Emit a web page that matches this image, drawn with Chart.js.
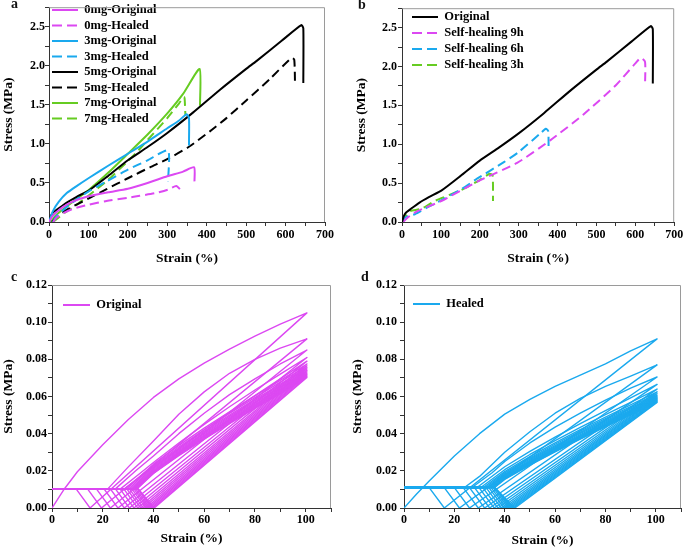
<!DOCTYPE html>
<html><head><meta charset="utf-8">
<script src="https://cdn.jsdelivr.net/npm/chart.js@4.4.0/dist/chart.umd.min.js"></script>
<style>
html,body{margin:0;padding:0;background:#fff;}
#wrap{position:relative;width:685px;height:549px;overflow:hidden;background:#fff;}
canvas{position:absolute;}
.lab{position:absolute;font:bold 14px/14px 'Times New Roman','Liberation Serif',serif;color:#111;}
</style></head><body>
<div id="wrap">
<canvas id="ca" width="345" height="270" style="left:0;top:0;width:345px;height:270px"></canvas>
<canvas id="cb" width="340" height="270" style="left:345px;top:0;width:340px;height:270px"></canvas>
<canvas id="cc" width="345" height="279" style="left:0;top:270px;width:345px;height:279px"></canvas>
<canvas id="cd" width="340" height="279" style="left:345px;top:270px;width:340px;height:279px"></canvas>
<div class="lab" style="left:11px;top:-3px">a</div>
<div class="lab" style="left:358px;top:-2px">b</div>
<div class="lab" style="left:11px;top:270px">c</div>
<div class="lab" style="left:361px;top:270px">d</div>
</div>
<script>
// ---------- Panel a data (strain %, stress MPa) ----------
const mg0Original = [[0,0],[8,0.07],[20,0.13],[35,0.19],[60,0.26],[100,0.33],[150,0.38],[200,0.425],[250,0.5],[300,0.585],[340,0.645],[368,0.70],[369,0.52]];
const mg0Healed = [[10,0],[20,0.06],[35,0.11],[61,0.17],[100,0.22],[146,0.27],[200,0.31],[230,0.335],[270,0.37],[302,0.415],[323,0.46],[336,0.40]];
const mg3Original = [[0,0],[10,0.14],[25,0.26],[45,0.37],[70,0.46],[103,0.57],[150,0.72],[205,0.89],[250,1.03],[300,1.2],[330,1.3],[349,1.38],[355,1.33],[355,0.98]];
const mg3Healed = [[10,0],[20,0.08],[40,0.17],[70,0.29],[100,0.39],[146,0.52],[200,0.67],[250,0.79],[302,0.915],[302,0.52]];
const mg5Original = [[0,0],[5,0.08],[10,0.12],[23,0.17],[45,0.25],[69,0.32],[103,0.41],[150,0.59],[200,0.79],[250,0.96],[300,1.14],[365,1.40],[433,1.69],[500,1.96],[526,2.06],[590,2.32],[640,2.52],[645,2.48],[645,1.78]];
const mg5Healed = [[8,0],[20,0.07],[50,0.17],[100,0.3],[146,0.42],[200,0.56],[256,0.7],[302,0.81],[354,0.96],[408,1.16],[450,1.33],[501,1.56],[560,1.83],[615,2.1],[622,2.08],[624,1.76]];
const mg7Original = [[5,0],[15,0.07],[30,0.14],[61,0.26],[103,0.42],[150,0.63],[200,0.874],[250,1.12],[300,1.39],[340,1.64],[382,1.96],[383,1.49]];
const mg7Healed = [[10,0],[20,0.04],[40,0.12],[70,0.22],[103,0.35],[150,0.54],[200,0.78],[222,0.89],[250,1.05],[300,1.33],[330,1.52],[342,1.6],[344,1.58],[346,1.36]];

// ---------- Panel b data ----------
const bOriginal = mg5Original;
const bHealing9h = [[3,0],[15,0.06],[40,0.14],[101,0.27],[194,0.52],[296,0.76],[381,1.05],[466,1.38],[550,1.76],[600,2.04],[614,2.11],[625,2.06],[625,1.76]];
const bHealing6h = [[0,0],[8,0.06],[33,0.1],[70,0.2],[109,0.3],[152,0.42],[194,0.56],[262,0.77],[300,0.9],[356,1.14],[370,1.2],[376,1.17],[377,0.95]];
const bHealing3h = [[0,0],[10,0.08],[20,0.14],[50,0.17],[84,0.27],[152,0.41],[200,0.54],[225,0.62],[233,0.6],[234,0.27]];

// ---------- Panel c data (cyclic, Original) ----------
const cLevel = 0.0103;
const cPeakStrain = 100.5;
const cPeak = [0.105,0.091,0.085,0.081,0.079,0.0775,0.0765,0.0755,0.0748,0.074,0.0733,0.0726,0.072,0.0714,0.0708,0.0702];
const cLoadStart = [0,22,25,27,28.5,29.5,30.3,31,31.5,32,32.4,32.7,33,33.2,33.4,33.6];
const cResidual = [15,19.5,23,26,28.5,30.5,32.3,33.8,35,36,37,37.8,38.5,39.2,39.8,40.3];
const cReturn = [9.5,14,17.5,20.5,23,25,26.8,28.3,29.5,30.5,31.5,32.3,33,33.7,34,34];
const cLoad = [
 [[5,0.0105],[10,0.0195],[20,0.034],[30,0.0475],[40,0.0595],[50,0.0695],[60,0.078],[70,0.0855],[80,0.0925],[90,0.099]],
 [[30,0.022],[40,0.036],[50,0.0505],[60,0.0625],[70,0.0725],[80,0.080],[90,0.086]],
 [[33,0.020],[40,0.028],[50,0.040],[60,0.051],[70,0.061],[80,0.0695],[90,0.0775]],
 [[35,0.019],[40,0.0245],[50,0.035],[60,0.045],[70,0.0545],[80,0.0635],[90,0.072]],
 [[36,0.018],[40,0.022],[50,0.032],[60,0.042],[70,0.0515],[80,0.0605],[90,0.0695]],
 [[40,0.0236],[50,0.0337],[60,0.043],[70,0.0518],[80,0.0603],[90,0.0687]],
 [[40,0.0227],[50,0.0328],[60,0.0421],[70,0.0509],[80,0.0594],[90,0.0677]],
 [[40,0.0219],[50,0.032],[60,0.0412],[70,0.05],[80,0.0585],[90,0.0667]],
 [[40,0.0213],[50,0.0314],[60,0.0405],[70,0.0493],[80,0.0578],[90,0.066]],
 [[40,0.0207],[50,0.0308],[60,0.0399],[70,0.0486],[80,0.0571],[90,0.0653]],
 [[40,0.0202],[50,0.0303],[60,0.0393],[70,0.048],[80,0.0564],[90,0.0646]],
 [[40,0.0198],[50,0.0298],[60,0.0388],[70,0.0474],[80,0.0558],[90,0.064]],
 [[40,0.0195],[50,0.0294],[60,0.0383],[70,0.0469],[80,0.0552],[90,0.0634]],
 [[40,0.0192],[50,0.029],[60,0.0378],[70,0.0464],[80,0.0547],[90,0.0628]],
 [[40,0.0189],[50,0.0286],[60,0.0374],[70,0.0459],[80,0.0541],[90,0.0622]],
 [[40,0.0186],[50,0.0282],[60,0.037],[70,0.0454],[80,0.0536],[90,0.0616]]
];

// ---------- Panel d data (cyclic, Healed) ----------
const dLevel = 0.011;
const dPeakStrain = 100.5;
const dPeak = [0.091,0.077,0.0705,0.0665,0.064,0.0625,0.0615,0.0607,0.06,0.0594,0.0589,0.0584,0.058,0.0576,0.0572,0.0568];
const dLoadStart = [0,24,27,29,30.5,31.5,32.3,33,33.5,34,34.4,34.8,35.1,35.4,35.7,36];
const dResidual = [16,22,26,29.5,32,34,35.8,37.3,38.6,39.7,40.6,41.4,42.1,42.8,43.4,44];
const dReturn = [10,16,20,23.5,26,28,29.8,31.3,32.6,33.7,34.6,35.4,36,36,36,36];
const dLoad = [
 [[5,0.0075],[10,0.0145],[20,0.028],[30,0.040],[40,0.0505],[50,0.0585],[60,0.0655],[70,0.0715],[80,0.0775],[90,0.0845]],
 [[30,0.017],[40,0.030],[50,0.041],[60,0.051],[70,0.059],[80,0.0655],[90,0.071]],
 [[35,0.019],[40,0.025],[50,0.035],[60,0.0435],[70,0.051],[80,0.058],[90,0.0645]],
 [[40,0.0222],[50,0.0305],[60,0.0381],[70,0.0454],[80,0.0524],[90,0.0592]],
 [[40,0.0206],[50,0.0288],[60,0.0363],[70,0.0434],[80,0.0502],[90,0.0569]],
 [[40,0.0196],[50,0.0277],[60,0.0351],[70,0.0422],[80,0.0489],[90,0.0555]],
 [[40,0.0189],[50,0.0269],[60,0.0343],[70,0.0414],[80,0.0481],[90,0.0546]],
 [[40,0.0183],[50,0.0263],[60,0.0336],[70,0.0407],[80,0.0474],[90,0.0539]],
 [[40,0.0178],[50,0.0257],[60,0.033],[70,0.0401],[80,0.0468],[90,0.0533]],
 [[40,0.0174],[50,0.0252],[60,0.0325],[70,0.0395],[80,0.0462],[90,0.0527]],
 [[40,0.017],[50,0.0248],[60,0.032],[70,0.039],[80,0.0457],[90,0.0522]],
 [[40,0.0166],[50,0.0244],[60,0.0316],[70,0.0385],[80,0.0452],[90,0.0517]],
 [[40,0.0163],[50,0.024],[60,0.0312],[70,0.0381],[80,0.0448],[90,0.0513]],
 [[40,0.016],[50,0.0237],[60,0.0308],[70,0.0377],[80,0.0444],[90,0.0509]],
 [[40,0.0157],[50,0.0234],[60,0.0305],[70,0.0373],[80,0.044],[90,0.0505]],
 [[40,0.0154],[50,0.0231],[60,0.0302],[70,0.037],[80,0.0436],[90,0.0501]]
];

// ---------- styling ----------
const FONT = "'Times New Roman','Liberation Serif',serif";
const MAGENTA = '#dc48f2', BLUE = '#1aa9ee', GREEN = '#66cc22', BLACK = '#000000';
const DASH = [9,5];

const pts = arr => arr.map(p => ({x:p[0], y:p[1]}));

// one path per cycle: flat return level -> loading -> peak -> (straight) unloading -> residual -> back to flat level
function cyclePaths(level, peakX, peaks, starts, residuals, returns, loads){
  const out = [];
  for (let i = 0; i < peaks.length; i++){
    const p = [];
    if (i === 0) p.push({x:0, y:0}); else p.push({x:0, y:level}, {x:starts[i], y:level});
    loads[i].forEach(q => p.push({x:q[0], y:q[1]}));
    p.push({x:peakX, y:peaks[i]});
    p.push({x:residuals[i], y:0}, {x:returns[i], y:level}, {x:0, y:level});
    out.push(p);
  }
  return out;
}

const framePlugin = {
  id:'frame',
  afterDatasetsDraw(chart){
    const {ctx, chartArea:a} = chart;
    ctx.save();
    ctx.strokeStyle = '#9a9a9a'; ctx.lineWidth = 1;
    ctx.beginPath();
    ctx.moveTo(a.left, a.top + 0.5);
    ctx.lineTo(a.right - 0.5, a.top + 0.5);
    ctx.lineTo(a.right - 0.5, a.bottom);
    ctx.stroke();
    ctx.restore();
  }
};
function legendPos(left, top){
  return { id:'legendPos', afterLayout(chart){
    const l = chart.legend; if (!l) return;
    l.left = left; l.top = top; l.right = chart.chartArea.right; l.bottom = chart.chartArea.bottom;
  }};
}

function makeChart(id, o){
  const ctx = document.getElementById(id);
  return new Chart(ctx, {
    type:'scatter',
    data:{datasets:o.datasets},
    options:{
      responsive:false, animation:false, devicePixelRatio:1,
      layout:{padding:o.pad},
      elements:{point:{radius:0, hoverRadius:0}, line:{borderJoinStyle:'round'}},
      plugins:{
        tooltip:{enabled:false},
        legend:{
          display:true, position:'chartArea', align:'start',
          labels:{
            usePointStyle:true, pointStyle:'line', pointStyleWidth:o.legW, padding:o.legPad,
            color:'#000', font:{family:FONT, weight:'bold', size:12.5},
            filter:(it) => !!it.text,
            generateLabels(chart){
              const items = Chart.defaults.plugins.legend.labels.generateLabels(chart);
              items.forEach(it => {
                const ds = chart.data.datasets[it.datasetIndex];
                it.lineDash = ds.borderDash ? [10,5] : [];
                it.lineWidth = 2;
                it.strokeStyle = ds.borderColor;
              });
              return items;
            }
          }
        }
      },
      scales:{
        x:{
          type:'linear', min:o.xmin, max:o.xmax,
          afterFit(s){ s.height = o.xh; },
          ticks:{stepSize:o.xstep, autoSkip:false, maxRotation:0, color:'#000', padding:o.xtickPad,
                 font:{family:FONT, weight:'bold', size:12}, callback:o.xlab},
          grid:{drawOnChartArea:false, tickLength:4, color:'#333', lineWidth:1},
          border:{color:'#333', width:1},
          title:{display:true, text:'Strain (%)', color:'#000', font:{family:FONT, weight:'bold', size:13.5}, padding:{top:0, bottom:o.xtp}}
        },
        y:{
          type:'linear', min:o.ymin, max:o.ymax,
          afterFit(s){ s.width = o.yw; },
          ticks:{stepSize:o.ystep, autoSkip:false, color:'#000', padding:o.ytickPad,
                 font:{family:FONT, weight:'bold', size:12}, callback:o.ylab},
          grid:{drawOnChartArea:false, tickLength:4, color:'#333', lineWidth:1},
          border:{color:'#333', width:1},
          title:{display:true, text:'Stress (MPa)', color:'#000', font:{family:FONT, weight:'bold', size:13.5}, padding:{top:o.ytp, bottom:0}}
        }
      }
    },
    plugins:[framePlugin, legendPos(o.legL, o.legT)]
  });
}

function line(label, data, color, dashed, width){
  return {label, data:pts(data), showLine:true, borderColor:color, backgroundColor:color,
          borderWidth:width || 2, borderDash:dashed ? DASH : undefined, pointRadius:0, fill:false, tension:0.2};
}

const labA = v => (Math.round(v) % 100 === 0) ? String(Math.round(v)) : '';
const labAY = v => (Math.abs(v*2 - Math.round(v*2)) < 1e-6) ? v.toFixed(1) : '';
const labCX = v => (Math.round(v) % 20 === 0 && v <= 100) ? String(Math.round(v)) : '';
const labCY = v => (Math.round(v*100) % 2 === 0) ? v.toFixed(2) : '';

// Panel a
makeChart('ca', {
  datasets:[
    line('0mg-Original', mg0Original, MAGENTA, false),
    line('0mg-Healed', mg0Healed, MAGENTA, true),
    line('3mg-Original', mg3Original, BLUE, false),
    line('3mg-Healed', mg3Healed, BLUE, true),
    line('5mg-Original', mg5Original, BLACK, false),
    line('5mg-Healed', mg5Healed, BLACK, true),
    line('7mg-Original', mg7Original, GREEN, false),
    line('7mg-Healed', mg7Healed, GREEN, true)
  ],
  pad:{left:0, right:20, top:1, bottom:0},
  xmin:0, xmax:700, xstep:50, xlab:labA, xh:48, xtp:3.8, xtickPad:1.8,
  ymin:0, ymax:2.75, ystep:0.25, ylab:labAY, yw:49, ytp:0.9, ytickPad:0,
  legW:26, legPad:3, legL:49, legT:0.75
});

// Panel b
makeChart('cb', {
  datasets:[
    line('Original', bOriginal, BLACK, false),
    line('Self-healing 9h', bHealing9h, MAGENTA, true),
    line('Self-healing 6h', bHealing6h, BLUE, true),
    line('Self-healing 3h', bHealing3h, GREEN, true)
  ],
  pad:{left:0, right:8, top:0, bottom:0},
  xmin:0, xmax:700, xstep:50, xlab:labA, xh:48, xtp:3.8, xtickPad:1.8,
  ymin:0, ymax:2.75, ystep:0.25, ylab:labAY, yw:57, ytp:8.6, ytickPad:1,
  legW:26, legPad:3.5, legL:63.5, legT:7.25
});

// Panel c
const cPaths = cyclePaths(cLevel, cPeakStrain, cPeak, cLoadStart, cResidual, cReturn, cLoad);
makeChart('cc', {
  datasets: cPaths.map((p, i) => ({label: i === 0 ? 'Original' : '', data:p, showLine:true, borderColor:MAGENTA,
    backgroundColor:MAGENTA, borderWidth:1.4, pointRadius:0, fill:false, tension:0})),
  pad:{left:0, right:14, top:15, bottom:0},
  xmin:0, xmax:110, xstep:10, xlab:labCX, xh:41, xtp:2.8, xtickPad:1.2,
  ymin:0, ymax:0.12, ystep:0.01, ylab:labCY, yw:52, ytp:0, ytickPad:1,
  legW:27, legPad:3, legL:60, legT:25.75
});

// Panel d
const dPaths = cyclePaths(dLevel, dPeakStrain, dPeak, dLoadStart, dResidual, dReturn, dLoad);
makeChart('cd', {
  datasets: dPaths.map((p, i) => ({label: i === 0 ? 'Healed' : '', data:p, showLine:true, borderColor:BLUE,
    backgroundColor:BLUE, borderWidth:1.4, pointRadius:0, fill:false, tension:0})),
  pad:{left:0, right:4, top:15, bottom:0},
  xmin:0, xmax:110, xstep:10, xlab:labCX, xh:41, xtp:0, xtickPad:1.2,
  ymin:0, ymax:0.12, ystep:0.01, ylab:labCY, yw:59, ytp:4.4, ytickPad:3,
  legW:27, legPad:3, legL:65, legT:24.75
});
</script>
</body></html>
